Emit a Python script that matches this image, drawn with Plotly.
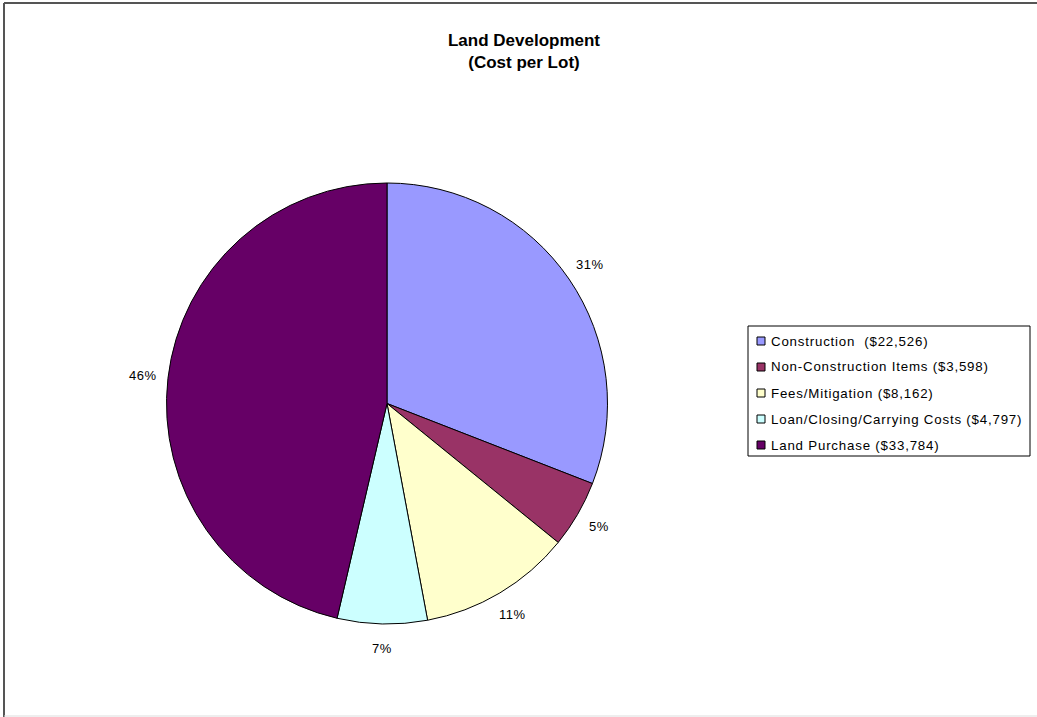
import math
import plotly.graph_objects as go

categories = ["Construction  ($22,526)", "Non-Construction Items ($3,598)", "Fees/Mitigation ($8,162)",
              "Loan/Closing/Carrying Costs ($4,797)", "Land Purchase ($33,784)"]
values = [22526, 3598, 8162, 4797, 33784]
colors = ["#9999FF", "#993366", "#FFFFCC", "#CCFFFF", "#660066"]

W, H = 1037, 717
FONT = "Liberation Sans, Arial, sans-serif"

# pie geometry (pixels)
CX, CY, R = 387, 403.5, 220.5
fig = go.Figure(go.Pie(
    labels=categories, values=values, sort=False, direction="clockwise", rotation=0,
    marker=dict(colors=colors, line=dict(color="#000000", width=1)),
    textinfo="none", hoverinfo="label+percent",
    domain=dict(x=[(CX - R) / W, (CX + R) / W], y=[1 - (CY + R) / H, 1 - (CY - R) / H]),
    showlegend=False,
))

annotations = []
# percentage labels placed outside each slice at its mid-angle
total = sum(values)
cum = 0
for v in values:
    mid = (cum + v / 2) / total * 2 * math.pi
    cum += v
    d = R + 25
    px = CX + d * math.sin(mid)
    py = CY - d * math.cos(mid)
    annotations.append(dict(x=px / W, y=1 - py / H, xref="paper", yref="paper",
                            text=f'<span style="letter-spacing:0.5px">{round(v / total * 100)}%</span>',
                            showarrow=False, xanchor="center", yanchor="middle",
                            font=dict(family=FONT, size=13, color="#000000")))

# legend (drawn manually to match the original box layout)
LX0, LY0, LX1, LY1 = 748, 326, 1030, 456
shapes = [dict(type="rect", xref="paper", yref="paper", x0=LX0 / W, x1=LX1 / W,
               y0=1 - LY1 / H, y1=1 - LY0 / H, line=dict(color="#000000", width=1),
               fillcolor="white")]
for i, (lab, col) in enumerate(zip(categories, colors)):
    yc = LY0 + 15 + i * 26
    shapes.append(dict(type="rect", xref="paper", yref="paper",
                       x0=757 / W, x1=765 / W, y0=1 - (yc + 4) / H, y1=1 - (yc - 4) / H,
                       line=dict(color="#000000", width=1), fillcolor=col))
    annotations.append(dict(x=769 / W, y=1 - yc / H, xref="paper", yref="paper",
                            text=f'<span style="letter-spacing:0.8px">{lab}</span>',
                            showarrow=False, xanchor="left", yanchor="middle",
                            font=dict(family=FONT, size=13.3, color="#000000")))

# chart border
shapes += [
    dict(type="line", xref="paper", yref="paper", x0=4 / W, x1=4 / W, y0=0, y1=1 - 3 / H,
         line=dict(color="#555555", width=2)),
    dict(type="line", xref="paper", yref="paper", x0=4 / W, x1=1, y0=1 - 3 / H, y1=1 - 3 / H,
         line=dict(color="#555555", width=2)),
    dict(type="line", xref="paper", yref="paper", x0=4 / W, x1=1, y0=1 / H, y1=1 / H,
         line=dict(color="#dddddd", width=1)),
]

fig.update_layout(
    width=W, height=H, margin=dict(l=0, r=0, t=0, b=0),
    paper_bgcolor="white", plot_bgcolor="white",
    font=dict(family=FONT, color="#000000"),
    title=dict(text="<b>Land Development<br>(Cost per Lot)</b>", x=524 / W, xanchor="center",
               y=1 - 46 / H, yanchor="top", font=dict(size=17)),
    shapes=shapes, annotations=annotations,
)
fig.write_html("out.html")
